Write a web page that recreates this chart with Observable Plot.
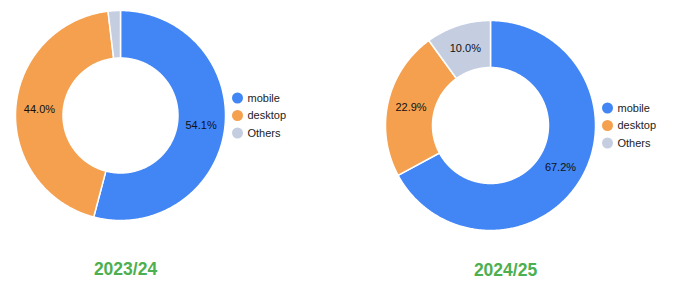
<!DOCTYPE html>
<html>
<head>
<meta charset="utf-8">
<script src="https://cdn.jsdelivr.net/npm/d3@7"></script>
<script src="https://cdn.jsdelivr.net/npm/@observablehq/plot@0.6"></script>
<style>
  html, body { margin: 0; padding: 0; background: #fff; }
  #chart svg { display: block; }
</style>
</head>
<body>
<div id="chart"></div>
<script>
// ---- data ----
const categories = ["mobile", "desktop", "Others"];
const colors = ["#4285F4", "#F5A04F", "#C5CDE1"];
const years = ["2023/24", "2024/25"];
const shares2023 = [54.1, 44.0, 1.9];
const shares2024 = [67.2, 22.9, 10.0];
const seriesValues = [shares2023, shares2024];

// ---- layout ----
const W = 673, H = 293;
const donuts = [
  {cx: 120, cy: 115, R: 105, r: 57.5, titleX: 125, titleY: 269},
  {cx: 490, cy: 125, R: 105, r: 58, titleX: 505, titleY: 270}
];

const polys = [];   // slice outlines
const labels = [];  // percent labels
const legendDots = [];
const titles = [];

years.forEach((year, k) => {
  const g = donuts[k];
  const vals = seriesValues[k];
  const total = d3.sum(vals);
  let acc = 0;
  vals.forEach((v, i) => {
    const a0 = acc / total * 2 * Math.PI;
    acc += v;
    const a1 = acc / total * 2 * Math.PI;
    const n = Math.max(4, Math.ceil((a1 - a0) / 0.01));
    const key = year + "|" + categories[i];
    const pts = [];
    for (let j = 0; j <= n; j++) {
      const a = a0 + (a1 - a0) * j / n;
      pts.push({key, cat: categories[i], x: g.cx + g.R * Math.sin(a), y: g.cy - g.R * Math.cos(a)});
    }
    for (let j = n; j >= 0; j--) {
      const a = a0 + (a1 - a0) * j / n;
      pts.push({key, cat: categories[i], x: g.cx + g.r * Math.sin(a), y: g.cy - g.r * Math.cos(a)});
    }
    pts.push({...pts[0]});
    polys.push(...pts);
    if (v / total > 0.05) {
      const am = (a0 + a1) / 2, rm = (g.R + g.r) / 2;
      labels.push({x: g.cx + rm * Math.sin(am), y: g.cy - rm * Math.cos(am), text: v.toFixed(1) + "%"});
    }
    legendDots.push({cat: categories[i], x: g.cx + 117, y: g.cy - 17.5 + 17.5 * i});
  });
  titles.push({x: g.titleX, y: g.titleY, text: year});
});

const plot = Plot.plot({
  width: W,
  height: H,
  margin: 0,
  style: {fontFamily: "'Liberation Sans', Arial, sans-serif", background: "#fff"},
  x: {domain: [0, W], range: [0, W], axis: null},
  y: {domain: [0, H], range: [0, H], axis: null},
  color: {domain: categories, range: colors},
  marks: [
    Plot.line(polys, {x: "x", y: "y", z: "key", fill: "cat", stroke: "white", strokeWidth: 1.5, curve: "linear-closed"}),
    Plot.text(labels, {x: "x", y: "y", text: "text", fontSize: 11, fill: "#111"}),
    Plot.dot(legendDots, {x: "x", y: "y", r: 5.5, fill: "cat", stroke: null}),
    Plot.text(legendDots, {x: d => d.x + 10, y: "y", text: "cat", fontSize: 11, fill: "#222", textAnchor: "start"}),
    Plot.text(titles, {x: "x", y: "y", text: "text", fontSize: 17.5, fontWeight: "bold", fill: "#4CAF50"})
  ]
});
document.getElementById("chart").appendChild(plot);
</script>
</body>
</html>
